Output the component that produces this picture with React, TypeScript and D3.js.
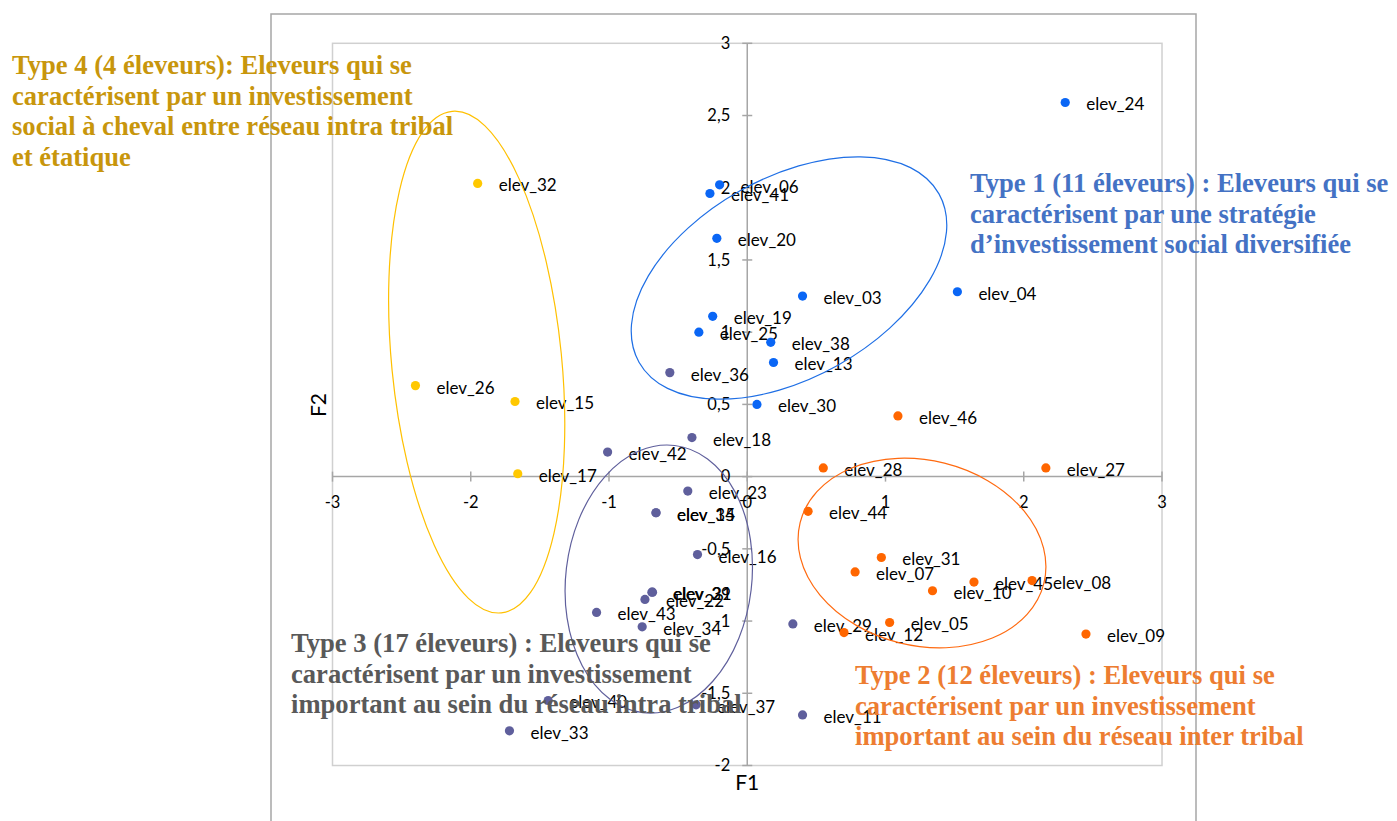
import * as d3 from "d3"

interface Pt {
  label: string
  f1: number
  f2: number
}

// Type 1 (blue)
const type1: Pt[] = [
  { label: "elev_24", f1: 2.3, f2: 2.59 },
  { label: "elev_06", f1: -0.2, f2: 2.02 },
  { label: "elev_41", f1: -0.27, f2: 1.96 },
  { label: "elev_20", f1: -0.22, f2: 1.65 },
  { label: "elev_03", f1: 0.4, f2: 1.25 },
  { label: "elev_04", f1: 1.52, f2: 1.28 },
  { label: "elev_19", f1: -0.25, f2: 1.11 },
  { label: "elev_25", f1: -0.35, f2: 1.0 },
  { label: "elev_38", f1: 0.17, f2: 0.93 },
  { label: "elev_13", f1: 0.19, f2: 0.79 },
  { label: "elev_30", f1: 0.07, f2: 0.5 },
]

// Type 2 (orange)
const type2: Pt[] = [
  { label: "elev_46", f1: 1.09, f2: 0.42 },
  { label: "elev_27", f1: 2.16, f2: 0.06 },
  { label: "elev_28", f1: 0.55, f2: 0.06 },
  { label: "elev_44", f1: 0.44, f2: -0.24 },
  { label: "elev_31", f1: 0.97, f2: -0.56 },
  { label: "elev_07", f1: 0.78, f2: -0.66 },
  { label: "elev_45", f1: 1.64, f2: -0.73 },
  { label: "elev_08", f1: 2.06, f2: -0.72 },
  { label: "elev_10", f1: 1.34, f2: -0.79 },
  { label: "elev_05", f1: 1.03, f2: -1.01 },
  { label: "elev_12", f1: 0.7, f2: -1.08 },
  { label: "elev_09", f1: 2.45, f2: -1.09 },
]

// Type 3 (purple)
const type3: Pt[] = [
  { label: "elev_36", f1: -0.56, f2: 0.72 },
  { label: "elev_18", f1: -0.4, f2: 0.27 },
  { label: "elev_42", f1: -1.01, f2: 0.17 },
  { label: "elev_23", f1: -0.43, f2: -0.1 },
  { label: "elev_14", f1: -0.66, f2: -0.25 },
  { label: "elev_35", f1: -0.66, f2: -0.25 },
  { label: "elev_16", f1: -0.36, f2: -0.54 },
  { label: "elev_21", f1: -0.685, f2: -0.8 },
  { label: "elev_39", f1: -0.69, f2: -0.8 },
  { label: "elev_22", f1: -0.74, f2: -0.85 },
  { label: "elev_43", f1: -1.09, f2: -0.94 },
  { label: "elev_34", f1: -0.76, f2: -1.04 },
  { label: "elev_29", f1: 0.33, f2: -1.02 },
  { label: "elev_40", f1: -1.44, f2: -1.55 },
  { label: "elev_37", f1: -0.37, f2: -1.58 },
  { label: "elev_11", f1: 0.4, f2: -1.65 },
  { label: "elev_33", f1: -1.72, f2: -1.76 },
]

// Type 4 (yellow)
const type4: Pt[] = [
  { label: "elev_32", f1: -1.95, f2: 2.03 },
  { label: "elev_26", f1: -2.4, f2: 0.63 },
  { label: "elev_15", f1: -1.68, f2: 0.52 },
  { label: "elev_17", f1: -1.66, f2: 0.02 },
]

const xTicks = [-3, -2, -1, 0, 1, 2, 3]
const yTicks = [-2, -1.5, -1, -0.5, 0, 0.5, 1, 1.5, 2, 2.5, 3]

const type1Text = [
  "Type 1 (11 éleveurs) : Eleveurs qui se",
  "caractérisent par une stratégie",
  "d\u2019investissement social diversifiée",
]
const type2Text = [
  "Type 2 (12 éleveurs) : Eleveurs qui se",
  "caractérisent par un investissement",
  "important au sein du réseau inter tribal",
]
const type3Text = [
  "Type 3 (17 éleveurs) : Eleveurs qui se",
  "caractérisent par un investissement",
  "important au sein du réseau intra tribal",
]
const type4Text = [
  "Type 4 (4 éleveurs): Eleveurs qui se",
  "caractérisent par un investissement",
  "social à cheval entre réseau intra tribal",
  "et étatique",
]

const W = 1397
const H = 821

const labelFont = "Lato, Calibri, 'Noto Sans', sans-serif"
const serifFont = "'Liberation Serif', 'Times New Roman', serif"

export default function App() {
  const x = d3.scaleLinear().domain([-3, 3]).range([332.5, 1162])
  const y = d3.scaleLinear().domain([-2, 3]).range([765.5, 43.3])
  const fmt = (v: number) => String(v).replace(".", ",")

  const groups = [
    { pts: type4, color: "#ffc800" },
    { pts: type3, color: "#5f5f9c" },
    { pts: type2, color: "#ff6600" },
    { pts: type1, color: "#0a66f5" },
  ]

  // ellipse annotations: centre in F1/F2 units, radii in px, rotation in degrees
  const ellipses = [
    { f1: 0.302, f2: 1.375, rx: 172, ry: 100, rot: -29.3, color: "#1f6fe5" },
    { f1: -1.957, f2: 0.793, rx: 85, ry: 252, rot: -5.6, color: "#ffc000" },
    { f1: -0.64, f2: -0.709, rx: 93, ry: 134.5, rot: 6.8, color: "#5f5f9c" },
    { f1: 1.264, f2: -0.529, rx: 125.6, ry: 92.6, rot: 14, color: "#ff6a10" },
  ]

  const textBlock = (lines: string[], x0: number, y0: number, color: string) => (
    <text
      fontFamily={serifFont}
      fontWeight="bold"
      fontSize={26.6}
      fill={color}
    >
      {lines.map((l, i) => (
        <tspan key={i} x={x0} y={y0 + i * 30.5}>
          {l}
        </tspan>
      ))}
    </text>
  )

  return (
    <svg
      width={W}
      height={H}
      style={{ position: "absolute", left: 0, top: 0, background: "#fff" }}
    >
      {/* chart frame */}
      <rect x={271} y={14} width={925} height={830} fill="none" stroke="#a6a6a6" strokeWidth={1.5} />
      {/* plot area */}
      <rect
        x={x(-3)}
        y={y(3)}
        width={x(3) - x(-3)}
        height={y(-2) - y(3)}
        fill="none"
        stroke="#d0d0d0"
        strokeWidth={1.5}
      />

      {/* axes */}
      <line x1={x(-3)} x2={x(3)} y1={y(0)} y2={y(0)} stroke="#a6a6a6" strokeWidth={1.5} />
      <line x1={x(0)} x2={x(0)} y1={y(3)} y2={y(-2)} stroke="#a6a6a6" strokeWidth={1.5} />
      {xTicks.map((t) => (
        <g key={"xt" + t}>
          <line x1={x(t)} x2={x(t)} y1={y(0) - 5} y2={y(0) + 5} stroke="#a6a6a6" strokeWidth={1.5} />
          <text
            x={x(t)}
            y={y(0) + 31}
            textAnchor="middle"
            fontFamily={labelFont}
            fontSize={16.5}
            fill="#000"
          >
            {fmt(t)}
          </text>
        </g>
      ))}
      {yTicks.map((t) => (
        <g key={"yt" + t}>
          <line x1={x(0) - 5} x2={x(0) + 5} y1={y(t)} y2={y(t)} stroke="#a6a6a6" strokeWidth={1.5} />
          <text
            x={x(0) - 17}
            y={y(t)}
            dy="0.35em"
            textAnchor="end"
            fontFamily={labelFont}
            fontSize={16.5}
            fill="#000"
          >
            {fmt(t)}
          </text>
        </g>
      ))}
      <text x={x(0)} y={790} textAnchor="middle" fontFamily={labelFont} fontSize={21} fill="#000">
        F1
      </text>
      <text
        transform="translate(326,405) rotate(-90)"
        textAnchor="middle"
        fontFamily={labelFont}
        fontSize={21}
        fill="#000"
      >
        F2
      </text>

      {/* points and labels */}
      {groups.map((g, gi) => (
        <g key={gi}>
          {g.pts.map((p) => (
            <g key={p.label}>
              <circle cx={x(p.f1)} cy={y(p.f2)} r={4.6} fill={g.color} />
              <text
                x={x(p.f1) + 21}
                y={y(p.f2) + 2}
                dy="0.35em"
                fontFamily={labelFont}
                fontSize={17}
                fill="#000"
              >
                {p.label}
              </text>
            </g>
          ))}
        </g>
      ))}

      {/* group ellipses */}
      {ellipses.map((e, i) => {
        const cx = x(e.f1)
        const cy = y(e.f2)
        return (
          <ellipse
            key={i}
            cx={cx}
            cy={cy}
            rx={e.rx}
            ry={e.ry}
            transform={`rotate(${e.rot} ${cx} ${cy})`}
            fill="none"
            stroke={e.color}
            strokeWidth={1.2}
          />
        )
      })}

      {/* type descriptions */}
      {textBlock(type4Text, 12, 74, "#c8960c")}
      {textBlock(type1Text, 970, 192, "#4472c4")}
      {textBlock(type3Text, 291, 652, "#595959")}
      {textBlock(type2Text, 855, 684, "#ed7d31")}
    </svg>
  )
}
